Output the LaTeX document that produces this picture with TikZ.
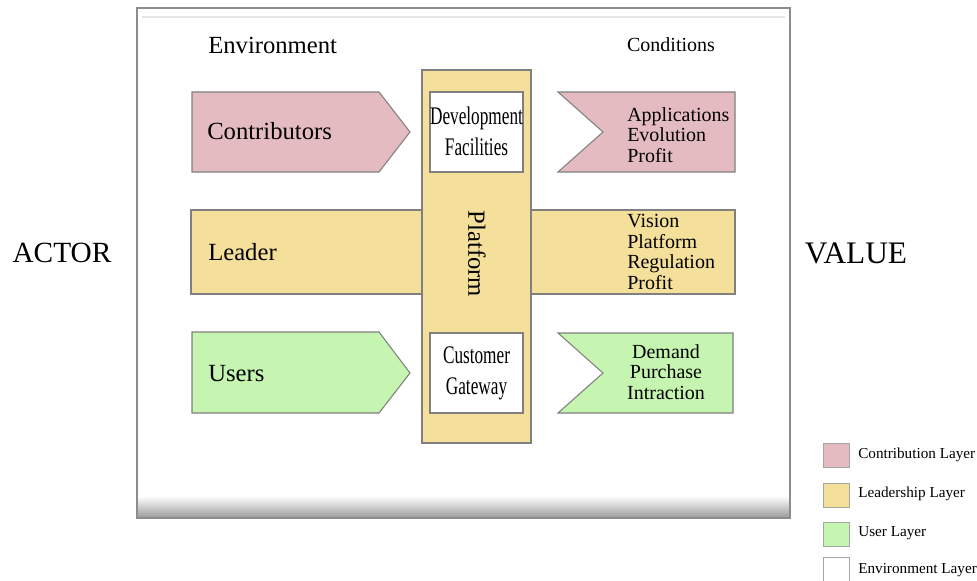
\documentclass[tikz,border=0pt]{standalone}
\usepackage{fontspec}
\setmainfont{Liberation Serif}
\newfontfamily\condfont[FakeStretch=0.68]{Liberation Serif}
\definecolor{pinkc}{HTML}{E5BBC2}
\definecolor{yellowc}{HTML}{F4E09A}
\definecolor{greenc}{HTML}{C5F5B0}
\definecolor{edgec}{HTML}{808080}
\begin{document}
\begin{tikzpicture}[x=0.75pt,y=-0.75pt,
  shp/.style={draw=edgec, line width=0.8pt},
  big/.style={font=\fontsize{18.5}{20}\selectfont, inner sep=0},
  lbl/.style={big, anchor=west},
  val/.style={font=\fontsize{15}{15.4}\selectfont, align=left, inner sep=0, anchor=west},
  cond/.style={font=\condfont\fontsize{19}{23.2}\selectfont, align=center, inner sep=0},
  legbox/.style={draw=black!35, line width=0.6pt, minimum width=19.5pt, minimum height=18pt, inner sep=0},
  legtxt/.style={font=\fontsize{11.4}{12}\selectfont, anchor=west, inner sep=0}
]
\useasboundingbox (0,0) rectangle (977,581);
\fill[white] (0,0) rectangle (977,581);
% frame
\shade[top color=white, bottom color=black!40] (138,496) rectangle (790,518);
\draw[black!45, line width=0.9pt] (137,8) rectangle (790,518);
\draw[black!10, line width=2pt] (142,17) -- (785,17);
% leader bar and platform
\draw[shp, fill=yellowc] (191,210) rectangle (735,294);
\draw[shp, fill=yellowc] (422,70) rectangle (531,443);
\draw[shp, fill=white] (430,92) rectangle (523,172);
\draw[shp, fill=white] (430,333) rectangle (523,413);
% arrows
\draw[shp, fill=pinkc] (192,92) -- (379,92) -- (410,132) -- (379,172) -- (192,172) -- cycle;
\draw[shp, fill=pinkc] (558,92) -- (735,92) -- (735,172) -- (558,172) -- (603,132) -- cycle;
\draw[shp, fill=greenc] (192,332) -- (379,332) -- (410,373) -- (379,413) -- (192,413) -- cycle;
\draw[shp, fill=greenc] (558,333) -- (733,333) -- (733,413) -- (558,413) -- (603,373) -- cycle;
% texts
\node[lbl] (env) at (208,45) {Environment};
\node[font=\fontsize{15}{16}\selectfont, inner sep=0] (cond) at (671,45) {Conditions};
\node[font=\fontsize{22}{24}\selectfont, inner sep=0] (actor) at (62,253) {ACTOR};
\node[font=\fontsize{23.5}{24}\selectfont, inner sep=0] (value) at (856,253) {VALUE};
\node[lbl] (contrib) at (207,131) {Contributors};
\node[lbl] (leader) at (208,252) {Leader};
\node[lbl] (users) at (208,374) {Users};
\node[cond] (dev) at (476.5,131) {Development\\Facilities};
\node[cond] (cust) at (476.5,373) {Customer\\Gateway};
\node[big, rotate=-90] (plat) at (477,254) {Platform};
\node[val] (cval) at (627,135) {Applications\\Evolution\\Profit};
\node[val] (lval) at (627,252) {Vision\\Platform\\Regulation\\Profit};
\node[val, align=center, anchor=center] (uval) at (666,372) {Demand\\Purchase\\Intraction};
% legend
\node[legbox, fill=pinkc] (l1) at (836,455) {};
\node[legbox, fill=yellowc] (l2) at (836,495) {};
\node[legbox, fill=greenc] (l3) at (836,534) {};
\node[legbox, fill=white] (l4) at (836,569) {};
\node[legtxt] (t1) at (858,455) {Contribution Layer};
\node[legtxt] (t2) at (858,494) {Leadership Layer};
\node[legtxt] (t3) at (858,533) {User Layer};
\node[legtxt] (t4) at (858,570) {Environment Layer};
\end{tikzpicture}
\end{document}
